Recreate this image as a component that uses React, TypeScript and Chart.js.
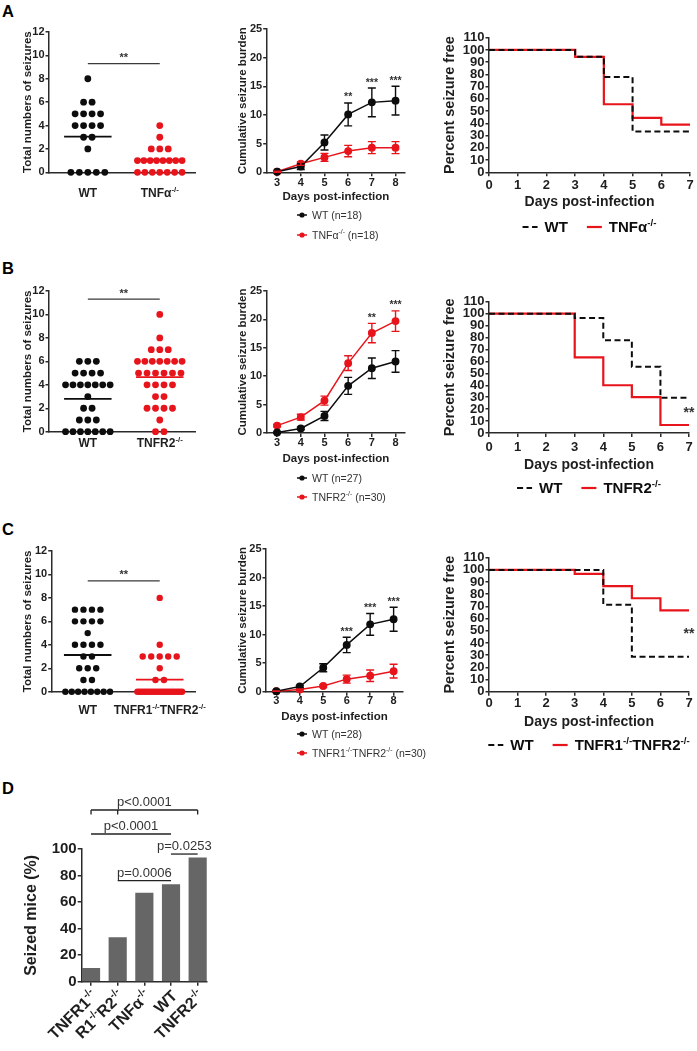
import React, { useEffect, useRef } from 'react';
import { Chart, registerables } from 'chart.js';

Chart.register(...registerables);

const FONT = '"Liberation Sans", Arial, Helvetica, sans-serif';
const RED = '#e8141c';
const BLK = '#0d0d0d';
const AXIS = '#2a2a2a';
const TXT = '#1e1e1e';
const BAR = '#666666';

/* ======================= DATA ======================= */
// Panel A – scatter (total seizures per mouse)
const scatterLabelsA = ['WT', 'TNFα^{-/-}'];
const totalA_WT = [0, 0, 0, 0, 0, 2, 3, 3, 4, 4, 4, 4, 5, 5, 5, 5, 6, 6, 8];
const totalA_KO = [0, 0, 0, 0, 0, 0, 0, 1, 1, 1, 1, 1, 1, 1, 1, 2, 2, 2, 3, 4];
const meanA = [3.05, 1.05];
const sigLevelA = 9.3;

// Panel B – scatter
const scatterLabelsB = ['WT', 'TNFR2^{-/-}'];
const totalB_WT = [0, 0, 0, 0, 0, 0, 0, 1, 1, 1, 2, 2, 3, 4, 4, 4, 4, 4, 4, 4, 5, 5, 5, 5, 6, 6, 6];
const totalB_KO = [0, 0, 1, 2, 2, 2, 2, 3, 3, 4, 4, 4, 4, 5, 5, 5, 5, 5, 5, 6, 6, 6, 6, 6, 6, 6, 7, 7, 7, 8, 10];
const meanB = [2.8, 4.65];
const sigLevelB = 11.3;

// Panel C – scatter
const scatterLabelsC = ['WT', 'TNFR1^{-/-}TNFR2^{-/-}'];
const totalC_WT = [0, 0, 0, 0, 0, 0, 0, 0, 1, 1, 2, 2, 2, 3, 3, 4, 4, 4, 4, 5, 6, 6, 6, 6, 7, 7, 7, 7];
const totalC_KO = [0, 0, 0, 0, 0, 0, 0, 0, 0, 0, 0, 0, 0, 0, 0, 0, 0, 0, 0, 0, 1, 1, 2, 3, 3, 3, 3, 3, 4, 8];
const meanC = [3.13, 1.03];
const sigLevelC = 9.45;

// Cumulative seizure burden
const DAYS = [3, 4, 5, 6, 7, 8];
const burdenA_WT = [0.1, 1.0, 5.2, 10.1, 12.2, 12.5];
const burdenA_WT_err = [0.1, 0.5, 1.3, 2.0, 2.5, 2.5];
const burdenA_KO = [0.1, 1.5, 2.6, 3.7, 4.3, 4.3];
const burdenA_KO_err = [0.1, 0.3, 0.7, 1.0, 1.05, 1.05];
const starsA = ['', '', '', '**', '***', '***'];
const legendLineA = ['WT (n=18)', 'TNFα^{-/-} (n=18)'];

const burdenB_WT = [0.1, 0.8, 3.0, 8.3, 11.4, 12.6];
const burdenB_WT_err = [0.1, 0.2, 0.8, 1.5, 1.8, 1.9];
const burdenB_KO = [1.3, 2.8, 5.7, 12.3, 17.6, 19.7];
const burdenB_KO_err = [0.2, 0.5, 0.8, 1.3, 1.7, 1.8];
const starsB = ['', '', '', '', '**', '***'];
const legendLineB = ['WT (n=27)', 'TNFR2^{-/-} (n=30)'];

const burdenC_WT = [0.1, 0.9, 4.2, 8.2, 11.8, 12.7];
const burdenC_WT_err = [0.1, 0.2, 0.7, 1.35, 1.9, 2.1];
const burdenC_KO = [0.1, 0.4, 1.0, 2.2, 2.8, 3.6];
const burdenC_KO_err = [0.05, 0.1, 0.2, 0.7, 1.0, 1.2];
const starsC = ['', '', '', '***', '***', '***'];
const legendLineC = ['WT (n=28)', 'TNFR1^{-/-}TNFR2^{-/-} (n=30)'];

// Percent seizure free (Kaplan–Meier)
const SURV_TICKS = [0, 1, 2, 3, 4, 5, 6, 7];
const survA_WT_days = [0, 3, 4, 5, 7];
const survA_WT = [100, 94.4, 77.8, 33.3, 33.3];
const survA_KO_days = [0, 3, 4, 5, 6, 7];
const survA_KO = [100, 94.4, 55.6, 44.4, 38.9, 38.9];
const legendSurvA = ['WT', 'TNFα^{-/-}'];

const survB_WT_days = [0, 3, 4, 5, 6, 7];
const survB_WT = [100, 96.3, 77.8, 55.6, 29.6, 29.6];
const survB_KO_days = [0, 3, 4, 5, 6, 7];
const survB_KO = [100, 63.3, 40, 30, 6.7, 6.7];
const legendSurvB = ['WT', 'TNFR2^{-/-}'];
const survSigB = 17.6;

const survC_WT_days = [0, 4, 5, 7];
const survC_WT = [100, 71.4, 28.6, 28.6];
const survC_KO_days = [0, 3, 4, 5, 6, 7];
const survC_KO = [100, 96.7, 86.7, 76.7, 66.7, 66.7];
const legendSurvC = ['WT', 'TNFR1^{-/-}TNFR2^{-/-}'];
const survSigC = 48;

// Panel D – seized mice (%)
const dCategories = ['TNFR1^{-/-}', 'R1^{-/-}R2^{-/-}', 'TNFα^{-/-}', 'WT', 'TNFR2^{-/-}'];
const dValues = [10, 33.3, 66.7, 73.1, 93.3];
const bracketFrom = [0, 0, 3, 1];
const bracketTo = [4, 3, 4, 3];
const bracketLevel = [129.4, 111.3, 96.2, 76.1];
const bracketText = ['p<0.0001', 'p<0.0001', 'p=0.0253', 'p=0.0006'];
const bracketDrops = [[0, 1, 4], [], [], []];

/* ======================= HELPERS ======================= */
type Frame = { x: number; y: number; w: number; h: number };
type Area = { l: number; t: number; r: number; b: number };

function parseRich(s: string) {
  const parts: { t: string; sup: boolean }[] = [];
  const re = /\^\{([^}]*)\}/g;
  let last = 0;
  let m: RegExpExecArray | null;
  while ((m = re.exec(s)) !== null) {
    if (m.index > last) parts.push({ t: s.slice(last, m.index), sup: false });
    parts.push({ t: m[1], sup: true });
    last = re.lastIndex;
  }
  if (last < s.length) parts.push({ t: s.slice(last), sup: false });
  return parts;
}
const fontStr = (size: number, weight: string) => `${weight} ${size}px ${FONT}`;

function richWidth(ctx: CanvasRenderingContext2D, s: string, size: number, weight: string) {
  let w = 0;
  for (const p of parseRich(s)) {
    ctx.font = fontStr(p.sup ? size * 0.65 : size, weight);
    w += ctx.measureText(p.t).width;
  }
  return w;
}

function drawRich(ctx: CanvasRenderingContext2D, s: string, x: number, cy: number, size: number,
  weight: string, color: string, align: 'left' | 'center' | 'right') {
  const total = richWidth(ctx, s, size, weight);
  let cx = align === 'left' ? x : align === 'right' ? x - total : x - total / 2;
  const base = cy + size * 0.36;
  ctx.save();
  ctx.fillStyle = color;
  ctx.textAlign = 'left';
  ctx.textBaseline = 'alphabetic';
  for (const p of parseRich(s)) {
    const sz = p.sup ? size * 0.65 : size;
    ctx.font = fontStr(sz, weight);
    ctx.fillText(p.t, cx, p.sup ? base - size * 0.42 : base);
    cx += ctx.measureText(p.t).width;
  }
  ctx.restore();
}

function pads(frame: Frame, area: Area, xH: number) {
  return {
    left: 0,
    top: area.t - frame.y,
    right: frame.x + frame.w - area.r,
    bottom: Math.max(0, frame.y + frame.h - area.b - xH),
  };
}

const baseOptions = (padding: any) => ({
  animation: false,
  responsive: false,
  maintainAspectRatio: false,
  events: [],
  layout: { padding },
  plugins: { legend: { display: false }, tooltip: { enabled: false }, title: { display: false } },
});

const tickGrid = (len: number) => ({
  display: true, drawOnChartArea: false, drawTicks: true, tickLength: len,
  color: AXIS, lineWidth: 1.5, offset: false,
});
const axisBorder = { display: true, color: AXIS, width: 1.5 };

function yAxis(o: { min: number; max: number; step: number; W: number; tickSize: number; tickLen: number;
  title: string; titleSize: number; titleCx: number; frameX: number }) {
  const lh = o.titleSize * 1.2;
  return {
    type: 'linear', min: o.min, max: o.max, offset: false,
    afterFit: (s: any) => { s.width = o.W; },
    ticks: { stepSize: o.step, autoSkip: false, color: TXT, padding: 1,
      font: { family: FONT, size: o.tickSize, weight: 'bold' } },
    grid: tickGrid(o.tickLen),
    border: axisBorder,
    title: { display: true, text: o.title, color: TXT,
      font: { family: FONT, size: o.titleSize, weight: 'bold' },
      padding: { top: o.titleCx - o.frameX - lh / 2, bottom: 0 } },
  };
}

function xAxis(o: { min: number; max: number; ticksArr: number[]; area: Area; tickSize: number;
  tickY: number; title: string; titleSize: number; titleY: number }) {
  const lhT = o.tickSize * 1.2;
  const lhTitle = o.titleSize * 1.2;
  const H = o.titleY - o.area.b + lhTitle / 2;
  return {
    H,
    scale: {
      type: 'linear', min: o.min, max: o.max, offset: false,
      afterBuildTicks: (s: any) => { s.ticks = o.ticksArr.map((v) => ({ value: v })); },
      afterFit: (s: any) => { s.height = H; },
      ticks: { autoSkip: false, maxRotation: 0, color: TXT, padding: o.tickY - o.area.b - 4 - lhT / 2,
        font: { family: FONT, size: o.tickSize, weight: 'bold' } },
      grid: tickGrid(4),
      border: axisBorder,
      title: { display: true, text: o.title, color: TXT,
        font: { family: FONT, size: o.titleSize, weight: 'bold' }, padding: { top: 0, bottom: 0 } },
    },
  };
}

/* ---------- scatter (dot plot) ---------- */
const DOT_GAP = 0.118;
const DOT_SPAN = 0.62;
const MEAN_HALF = 0.33;

function swarm(values: number[], center: number) {
  const counts = new Map<number, number>();
  values.forEach((v) => counts.set(v, (counts.get(v) || 0) + 1));
  const seen = new Map<number, number>();
  return values.map((v) => {
    const n = counts.get(v) as number;
    const k = seen.get(v) || 0;
    seen.set(v, k + 1);
    const gap = n > 1 ? Math.min(DOT_GAP, DOT_SPAN / (n - 1)) : 0;
    return { x: center + (k - (n - 1) / 2) * gap, y: v };
  });
}

function makeScatter(frame: Frame, area: Area, labels: string[], wt: number[], ko: number[],
  means: number[], sig: number, labelY: number, xmin: number, xmax: number, r: number) {
  const xH = 12;
  return () => ({
    type: 'scatter',
    data: {
      datasets: [
        { type: 'line', data: [{ x: -MEAN_HALF, y: means[0] }, { x: MEAN_HALF, y: means[0] }],
          borderColor: BLK, borderWidth: 1.8, pointRadius: 0, order: 0, clip: false },
        { type: 'line', data: [{ x: 1 - MEAN_HALF, y: means[1] }, { x: 1 + MEAN_HALF, y: means[1] }],
          borderColor: RED, borderWidth: 1.8, pointRadius: 0, order: 0, clip: false },
        { type: 'line', data: [{ x: 0, y: sig }, { x: 1, y: sig }],
          borderColor: '#3a3a3a', borderWidth: 1.2, pointRadius: 0, order: 0, clip: false },
        { data: swarm(wt, 0), backgroundColor: BLK, borderWidth: 0, pointRadius: r, order: 1, clip: false },
        { data: swarm(ko, 1), backgroundColor: RED, borderWidth: 0, pointRadius: r, order: 1, clip: false },
      ],
    },
    options: {
      ...baseOptions(pads(frame, area, xH)),
      scales: {
        x: { type: 'linear', min: xmin, max: xmax, offset: false,
          afterFit: (s: any) => { s.height = xH; },
          ticks: { display: false }, grid: { display: false }, border: axisBorder },
        y: yAxis({ min: 0, max: 12, step: 2, W: area.l - frame.x, tickSize: 11, tickLen: 3.5,
          title: 'Total numbers of seizures', titleSize: 11.5, titleCx: 28.3, frameX: frame.x }),
      },
    },
    plugins: [{
      id: 'scatterExtras',
      afterDraw(chart: any) {
        const ctx = chart.ctx as CanvasRenderingContext2D;
        const xs = chart.scales.x, ys = chart.scales.y;
        ctx.save();
        ctx.font = fontStr(11, 'bold');
        ctx.fillStyle = '#333';
        ctx.textAlign = 'center';
        ctx.textBaseline = 'alphabetic';
        ctx.fillText('**', xs.getPixelForValue(0.5), ys.getPixelForValue(sig) - 2.5);
        ctx.restore();
        labels.forEach((lab, i) => {
          drawRich(ctx, lab, xs.getPixelForValue(i), labelY - frame.y, 12, 'bold', TXT, 'center');
        });
      },
    }],
  });
}

/* ---------- cumulative burden line ---------- */
function makeLine(frame: Frame, area: Area, wt: number[], wtErr: number[], ko: number[], koErr: number[],
  stars: string[], starsOn: number, legend: string[], legendX: number, legendY: number[],
  tickY: number, titleY: number) {
  const xa = xAxis({ min: 2.56, max: 8.4, ticksArr: DAYS, area, tickSize: 11, tickY,
    title: 'Days post-infection', titleSize: 11.5, titleY });
  const series = [wt, ko];
  const errs = [wtErr, koErr];
  const colors = [BLK, RED];
  return () => ({
    type: 'line',
    data: {
      datasets: series.map((vals, k) => ({
        data: vals.map((v, i) => ({ x: DAYS[i], y: v })),
        borderColor: colors[k], backgroundColor: colors[k], pointBackgroundColor: colors[k],
        pointBorderColor: colors[k], pointRadius: 3.2, borderWidth: 1.5, clip: false, order: k,
      })),
    },
    options: {
      ...baseOptions(pads(frame, area, xa.H)),
      scales: {
        x: xa.scale,
        y: yAxis({ min: 0, max: 25, step: 5, W: area.l - frame.x, tickSize: 11, tickLen: 3.5,
          title: 'Cumulative seizure burden', titleSize: 11.5, titleCx: 242.7, frameX: frame.x }),
      },
    },
    plugins: [{
      id: 'lineExtras',
      afterDatasetsDraw(chart: any) {
        const ctx = chart.ctx as CanvasRenderingContext2D;
        const ys = chart.scales.y;
        series.forEach((vals, k) => {
          const meta = chart.getDatasetMeta(k);
          ctx.save();
          ctx.strokeStyle = colors[k];
          ctx.lineWidth = 1.4;
          vals.forEach((v, i) => {
            const x = meta.data[i].x;
            const y1 = ys.getPixelForValue(v + errs[k][i]);
            const y2 = ys.getPixelForValue(v - errs[k][i]);
            ctx.beginPath();
            ctx.moveTo(x, y1); ctx.lineTo(x, y2);
            ctx.moveTo(x - 4, y1); ctx.lineTo(x + 4, y1);
            ctx.moveTo(x - 4, y2); ctx.lineTo(x + 4, y2);
            ctx.stroke();
          });
          ctx.restore();
        });
      },
      afterDraw(chart: any) {
        const ctx = chart.ctx as CanvasRenderingContext2D;
        const ys = chart.scales.y;
        const meta = chart.getDatasetMeta(starsOn);
        const vals = series[starsOn];
        ctx.save();
        ctx.font = fontStr(10.5, 'bold');
        ctx.fillStyle = '#333';
        ctx.textAlign = 'center';
        ctx.textBaseline = 'alphabetic';
        stars.forEach((s, i) => {
          if (!s) return;
          ctx.fillText(s, meta.data[i].x, ys.getPixelForValue(vals[i] + errs[starsOn][i]) - 2.5);
        });
        ctx.restore();
        legend.forEach((txt, k) => {
          const y = legendY[k] - frame.y;
          const x = legendX - frame.x;
          ctx.save();
          ctx.strokeStyle = colors[k];
          ctx.fillStyle = colors[k];
          ctx.lineWidth = 1.5;
          ctx.beginPath(); ctx.moveTo(x, y); ctx.lineTo(x + 10, y); ctx.stroke();
          ctx.beginPath(); ctx.arc(x + 5, y, 2.6, 0, Math.PI * 2); ctx.fill();
          ctx.restore();
          drawRich(ctx, txt, x + 15, y, 10.5, 'normal', '#333', 'left');
        });
      },
    }],
  });
}

/* ---------- survival (step) ---------- */
function makeSurv(frame: Frame, area: Area, wtDays: number[], wt: number[], koDays: number[], ko: number[],
  legend: string[], legendY: number, tickY: number, titleY: number, sigLevel: number | null) {
  const xa = xAxis({ min: 0, max: 7, ticksArr: SURV_TICKS, area, tickSize: 13, tickY,
    title: 'Days post-infection', titleSize: 14, titleY });
  return () => ({
    type: 'line',
    data: {
      datasets: [
        { data: wtDays.map((d, i) => ({ x: d, y: wt[i] })), stepped: 'before', borderColor: BLK,
          borderWidth: 2, borderDash: [6, 3.5], pointRadius: 0, clip: false, order: 0 },
        { data: koDays.map((d, i) => ({ x: d, y: ko[i] })), stepped: 'before', borderColor: RED,
          borderWidth: 2.2, pointRadius: 0, clip: false, order: 1 },
      ],
    },
    options: {
      ...baseOptions(pads(frame, area, xa.H)),
      scales: {
        x: xa.scale,
        y: yAxis({ min: 0, max: 110, step: 10, W: area.l - frame.x, tickSize: 13, tickLen: 3.5,
          title: 'Percent seizure free', titleSize: 14.5, titleCx: 450, frameX: frame.x }),
      },
    },
    plugins: [{
      id: 'survExtras',
      afterDraw(chart: any) {
        const ctx = chart.ctx as CanvasRenderingContext2D;
        const xs = chart.scales.x, ys = chart.scales.y;
        if (sigLevel !== null) {
          ctx.save();
          ctx.font = fontStr(14, 'bold');
          ctx.fillStyle = '#333';
          ctx.textAlign = 'center';
          ctx.textBaseline = 'alphabetic';
          ctx.fillText('**', xs.getPixelForValue(7), ys.getPixelForValue(sigLevel) + 5);
          ctx.restore();
        }
        const size = 15, sample = 15, gapIn = 7, gapOut = 19;
        const w0 = richWidth(ctx, legend[0], size, 'bold');
        const w1 = richWidth(ctx, legend[1], size, 'bold');
        const total = sample + gapIn + w0 + gapOut + sample + gapIn + w1;
        const cx = (chart.chartArea.left + chart.chartArea.right) / 2;
        let x = cx - total / 2;
        const y = legendY - frame.y;
        ctx.save();
        ctx.lineWidth = 2;
        ctx.strokeStyle = BLK;
        ctx.setLineDash([6, 3.5]);
        ctx.beginPath(); ctx.moveTo(x, y); ctx.lineTo(x + sample, y); ctx.stroke();
        ctx.restore();
        x += sample + gapIn;
        drawRich(ctx, legend[0], x, y, size, 'bold', BLK, 'left');
        x += w0 + gapOut;
        ctx.save();
        ctx.lineWidth = 2.2;
        ctx.strokeStyle = RED;
        ctx.beginPath(); ctx.moveTo(x, y); ctx.lineTo(x + sample, y); ctx.stroke();
        ctx.restore();
        x += sample + gapIn;
        drawRich(ctx, legend[1], x, y, size, 'bold', BLK, 'left');
      },
    }],
  });
}

/* ---------- panel D bars ---------- */
function makeBars(frame: Frame, area: Area) {
  const xH = frame.y + frame.h - area.b;
  return () => ({
    type: 'bar',
    data: {
      datasets: [{
        data: dValues.map((v, i) => ({ x: i, y: v })),
        backgroundColor: BAR, borderWidth: 0, barThickness: 17.5,
      }],
    },
    options: {
      ...baseOptions(pads(frame, area, xH)),
      scales: {
        x: { type: 'linear', min: -0.35, max: 4.35, offset: false,
          afterBuildTicks: (s: any) => { s.ticks = dCategories.map((_, i) => ({ value: i })); },
          afterFit: (s: any) => { s.height = xH; },
          ticks: { display: false }, grid: tickGrid(4), border: axisBorder },
        y: yAxis({ min: 0, max: 100, step: 20, W: area.l - frame.x, tickSize: 15, tickLen: 4,
          title: 'Seized mice (%)', titleSize: 16, titleCx: 32, frameX: frame.x }),
      },
    },
    plugins: [{
      id: 'barExtras',
      afterDraw(chart: any) {
        const ctx = chart.ctx as CanvasRenderingContext2D;
        const xs = chart.scales.x, ys = chart.scales.y;
        const bottom = chart.chartArea.bottom;
        dCategories.forEach((lab, i) => {
          ctx.save();
          ctx.translate(xs.getPixelForValue(i) + 3, bottom + 11);
          ctx.rotate(-Math.PI / 4);
          drawRich(ctx, lab, 0, 0, 16, 'bold', TXT, 'right');
          ctx.restore();
        });
        bracketText.forEach((txt, k) => {
          const x1 = xs.getPixelForValue(bracketFrom[k]);
          const x2 = xs.getPixelForValue(bracketTo[k]);
          const y = ys.getPixelForValue(bracketLevel[k]);
          ctx.save();
          ctx.strokeStyle = '#222';
          ctx.lineWidth = 1.3;
          ctx.beginPath();
          ctx.moveTo(x1, y); ctx.lineTo(x2, y);
          bracketDrops[k].forEach((d) => {
            const xd = xs.getPixelForValue(d);
            ctx.moveTo(xd, y); ctx.lineTo(xd, y + 4.5);
          });
          ctx.stroke();
          ctx.font = fontStr(13, 'normal');
          ctx.fillStyle = '#333';
          ctx.textAlign = 'center';
          ctx.textBaseline = 'alphabetic';
          ctx.fillText(txt, (x1 + x2) / 2, y - 4);
          ctx.restore();
        });
      },
    }],
  });
}

/* ======================= LAYOUT ======================= */
const COL1 = { x: 0, w: 222 };
const COL2 = { x: 222, w: 214 };
const COL3 = { x: 436, w: 261 };
const ROWA = { y: 20, h: 228 };
const ROWB = { y: 255, h: 252 };
const ROWC = { y: 510, h: 256 };
const fr = (c: { x: number; w: number }, r: { y: number; h: number }): Frame => ({ x: c.x, y: r.y, w: c.w, h: r.h });

const SPECS: { frame: Frame; make: () => any }[] = [
  { frame: fr(COL1, ROWA), make: makeScatter(fr(COL1, ROWA), { l: 49, t: 32, r: 195, b: 172.3 },
    scatterLabelsA, totalA_WT, totalA_KO, meanA, sigLevelA, 192.5, -0.54, 1.49, 3.4) },
  { frame: fr(COL2, ROWA), make: makeLine(fr(COL2, ROWA), { l: 266.7, t: 29, r: 405, b: 172.3 },
    burdenA_WT, burdenA_WT_err, burdenA_KO, burdenA_KO_err, starsA, 0, legendLineA, 297, [215, 235], 183, 197) },
  { frame: fr(COL3, ROWA), make: makeSurv(fr(COL3, ROWA), { l: 489, t: 37.7, r: 690, b: 172.3 },
    survA_WT_days, survA_WT, survA_KO_days, survA_KO, legendSurvA, 227, 185, 202, null) },

  { frame: fr(COL1, ROWB), make: makeScatter(fr(COL1, ROWB), { l: 49, t: 291, r: 195, b: 431.7 },
    scatterLabelsB, totalB_WT, totalB_KO, meanB, sigLevelB, 443, -0.54, 1.49, 3.4) },
  { frame: fr(COL2, ROWB), make: makeLine(fr(COL2, ROWB), { l: 266.7, t: 291, r: 405, b: 433 },
    burdenB_WT, burdenB_WT_err, burdenB_KO, burdenB_KO_err, starsB, 1, legendLineB, 297, [478, 497], 443, 459) },
  { frame: fr(COL3, ROWB), make: makeSurv(fr(COL3, ROWB), { l: 489, t: 301.7, r: 689, b: 433 },
    survB_WT_days, survB_WT, survB_KO_days, survB_KO, legendSurvB, 488, 447, 465, survSigB) },

  { frame: fr(COL1, ROWC), make: makeScatter(fr(COL1, ROWC), { l: 51.7, t: 551, r: 195, b: 691.7 },
    scatterLabelsC, totalC_WT, totalC_KO, meanC, sigLevelC, 710, -0.5, 1.49, 3.2) },
  { frame: fr(COL2, ROWC), make: makeLine(fr(COL2, ROWC), { l: 266, t: 549, r: 403, b: 691.7 },
    burdenC_WT, burdenC_WT_err, burdenC_KO, burdenC_KO_err, starsC, 0, legendLineC, 297, [734, 753], 701, 717) },
  { frame: fr(COL3, ROWC), make: makeSurv(fr(COL3, ROWC), { l: 489, t: 557.7, r: 689, b: 691.7 },
    survC_WT_days, survC_WT, survC_KO_days, survC_KO, legendSurvC, 745, 703, 722, survSigC) },

  { frame: { x: 0, y: 770, w: 222, h: 281 }, make: makeBars({ x: 0, y: 770, w: 222, h: 281 },
    { l: 81.7, t: 849, r: 207, b: 981.7 }) },
];

const LETTERS = [
  { t: 'A', top: 3 },
  { t: 'B', top: 260 },
  { t: 'C', top: 521 },
  { t: 'D', top: 780 },
];

function ChartBox({ frame, make }: { frame: Frame; make: () => any }) {
  const ref = useRef<HTMLCanvasElement>(null);
  useEffect(() => {
    const chart = new Chart(ref.current as HTMLCanvasElement, make());
    return () => chart.destroy();
  }, []);
  return (
    <div style={{ position: 'absolute', left: frame.x, top: frame.y, width: frame.w, height: frame.h }}>
      <canvas ref={ref} width={frame.w} height={frame.h}
        style={{ width: frame.w, height: frame.h, display: 'block' }} />
    </div>
  );
}

export default function App() {
  return (
    <div style={{ position: 'absolute', left: 0, top: 0, width: 697, height: 1051, background: '#fff', fontFamily: FONT }}>
      {LETTERS.map((l) => (
        <div key={l.t} style={{ position: 'absolute', left: 2, top: l.top, fontSize: 16.5, lineHeight: '17px',
          fontWeight: 'bold', color: '#000', fontFamily: FONT }}>{l.t}</div>
      ))}
      {SPECS.map((s, i) => <ChartBox key={i} frame={s.frame} make={s.make} />)}
    </div>
  );
}
